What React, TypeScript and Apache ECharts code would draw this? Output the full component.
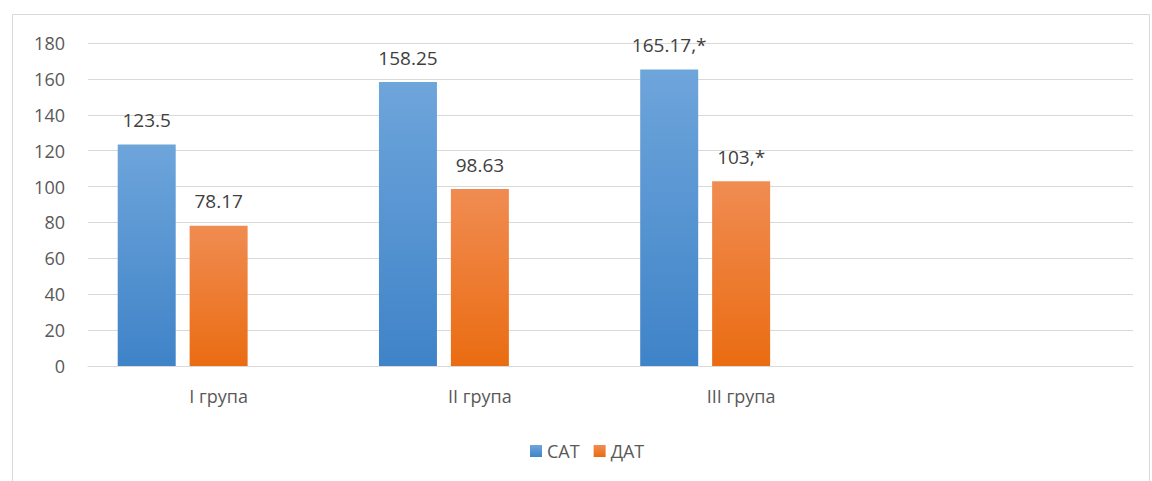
import React, { useEffect, useRef } from "react";
import * as echarts from "echarts";

const categories = ["I група", "II група", "III група", ""];
const satValues = [123.5, 158.25, 165.17, null];
const datValues = [78.17, 98.63, 103, null];
const satLabels = ["123.5", "158.25", "165.17,*", ""];
const datLabels = ["78.17", "98.63", "103,*", ""];
const seriesNames = ["САТ", "ДАТ"];

const FONT = "'Open Sans', 'Noto Sans', sans-serif";

export default function App() {
  const ref = useRef<HTMLDivElement>(null);
  useEffect(() => {
    if (!ref.current) return;
    const chart = echarts.init(ref.current, undefined, { renderer: "svg" });
    const labelStyle = {
      show: true,
      position: "top" as const,
      distance: 15,
      color: "#404040",
      fontSize: 19,
      fontFamily: FONT,
    };
    chart.setOption({
      animation: false,
      backgroundColor: "#ffffff",
      graphic: [
        {
          type: "rect",
          shape: { x: 12.5, y: 14.5, width: 1137, height: 470 },
          style: { fill: "none", stroke: "#d9d9d9", lineWidth: 1 },
          silent: true,
        },
      ],
      grid: { left: 88, right: 19, top: 43, bottom: 115, containLabel: false },
      legend: {
        data: seriesNames,
        bottom: 16,
        left: 525,
        itemWidth: 12,
        itemHeight: 12,
        itemGap: 14,
        icon: "rect",
        textStyle: { color: "#595959", fontSize: 18, fontFamily: FONT },
      },
      xAxis: {
        type: "category",
        data: categories,
        axisLine: { show: true, lineStyle: { color: "#d9d9d9", width: 1 } },
        axisTick: { show: false },
        axisLabel: { color: "#595959", fontSize: 18, fontFamily: FONT, margin: 21 },
      },
      yAxis: {
        type: "value",
        min: 0,
        max: 180,
        interval: 20,
        axisLine: { show: false },
        axisTick: { show: false },
        splitLine: { lineStyle: { color: "#d9d9d9", width: 1 } },
        axisLabel: { color: "#595959", fontSize: 18, fontFamily: FONT, margin: 23 },
      },
      series: [
        {
          name: seriesNames[0],
          type: "bar",
          barWidth: 58,
          barGap: "24%",
          data: satValues,
          itemStyle: {
            color: new echarts.graphic.LinearGradient(0, 0, 0, 1, [
              { offset: 0, color: "#6ea5db" },
              { offset: 1, color: "#3f83c8" },
            ]),
          },
          label: {
            ...labelStyle,
            formatter: (p: any) => satLabels[p.dataIndex],
          },
        },
        {
          name: seriesNames[1],
          type: "bar",
          barWidth: 58,
          barGap: "24%",
          data: datValues,
          itemStyle: {
            color: new echarts.graphic.LinearGradient(0, 0, 0, 1, [
              { offset: 0, color: "#f08c52" },
              { offset: 1, color: "#ea6c12" },
            ]),
          },
          label: {
            ...labelStyle,
            formatter: (p: any) => datLabels[p.dataIndex],
          },
        },
        {
          name: "",
          type: "bar",
          barWidth: 58,
          barGap: "24%",
          data: [null, null, null, null],
        },
      ],
    });
    return () => chart.dispose();
  }, []);
  return (
    <div
      ref={ref}
      style={{ position: "fixed", left: 0, top: 0, width: 1152, height: 481 }}
    />
  );
}
